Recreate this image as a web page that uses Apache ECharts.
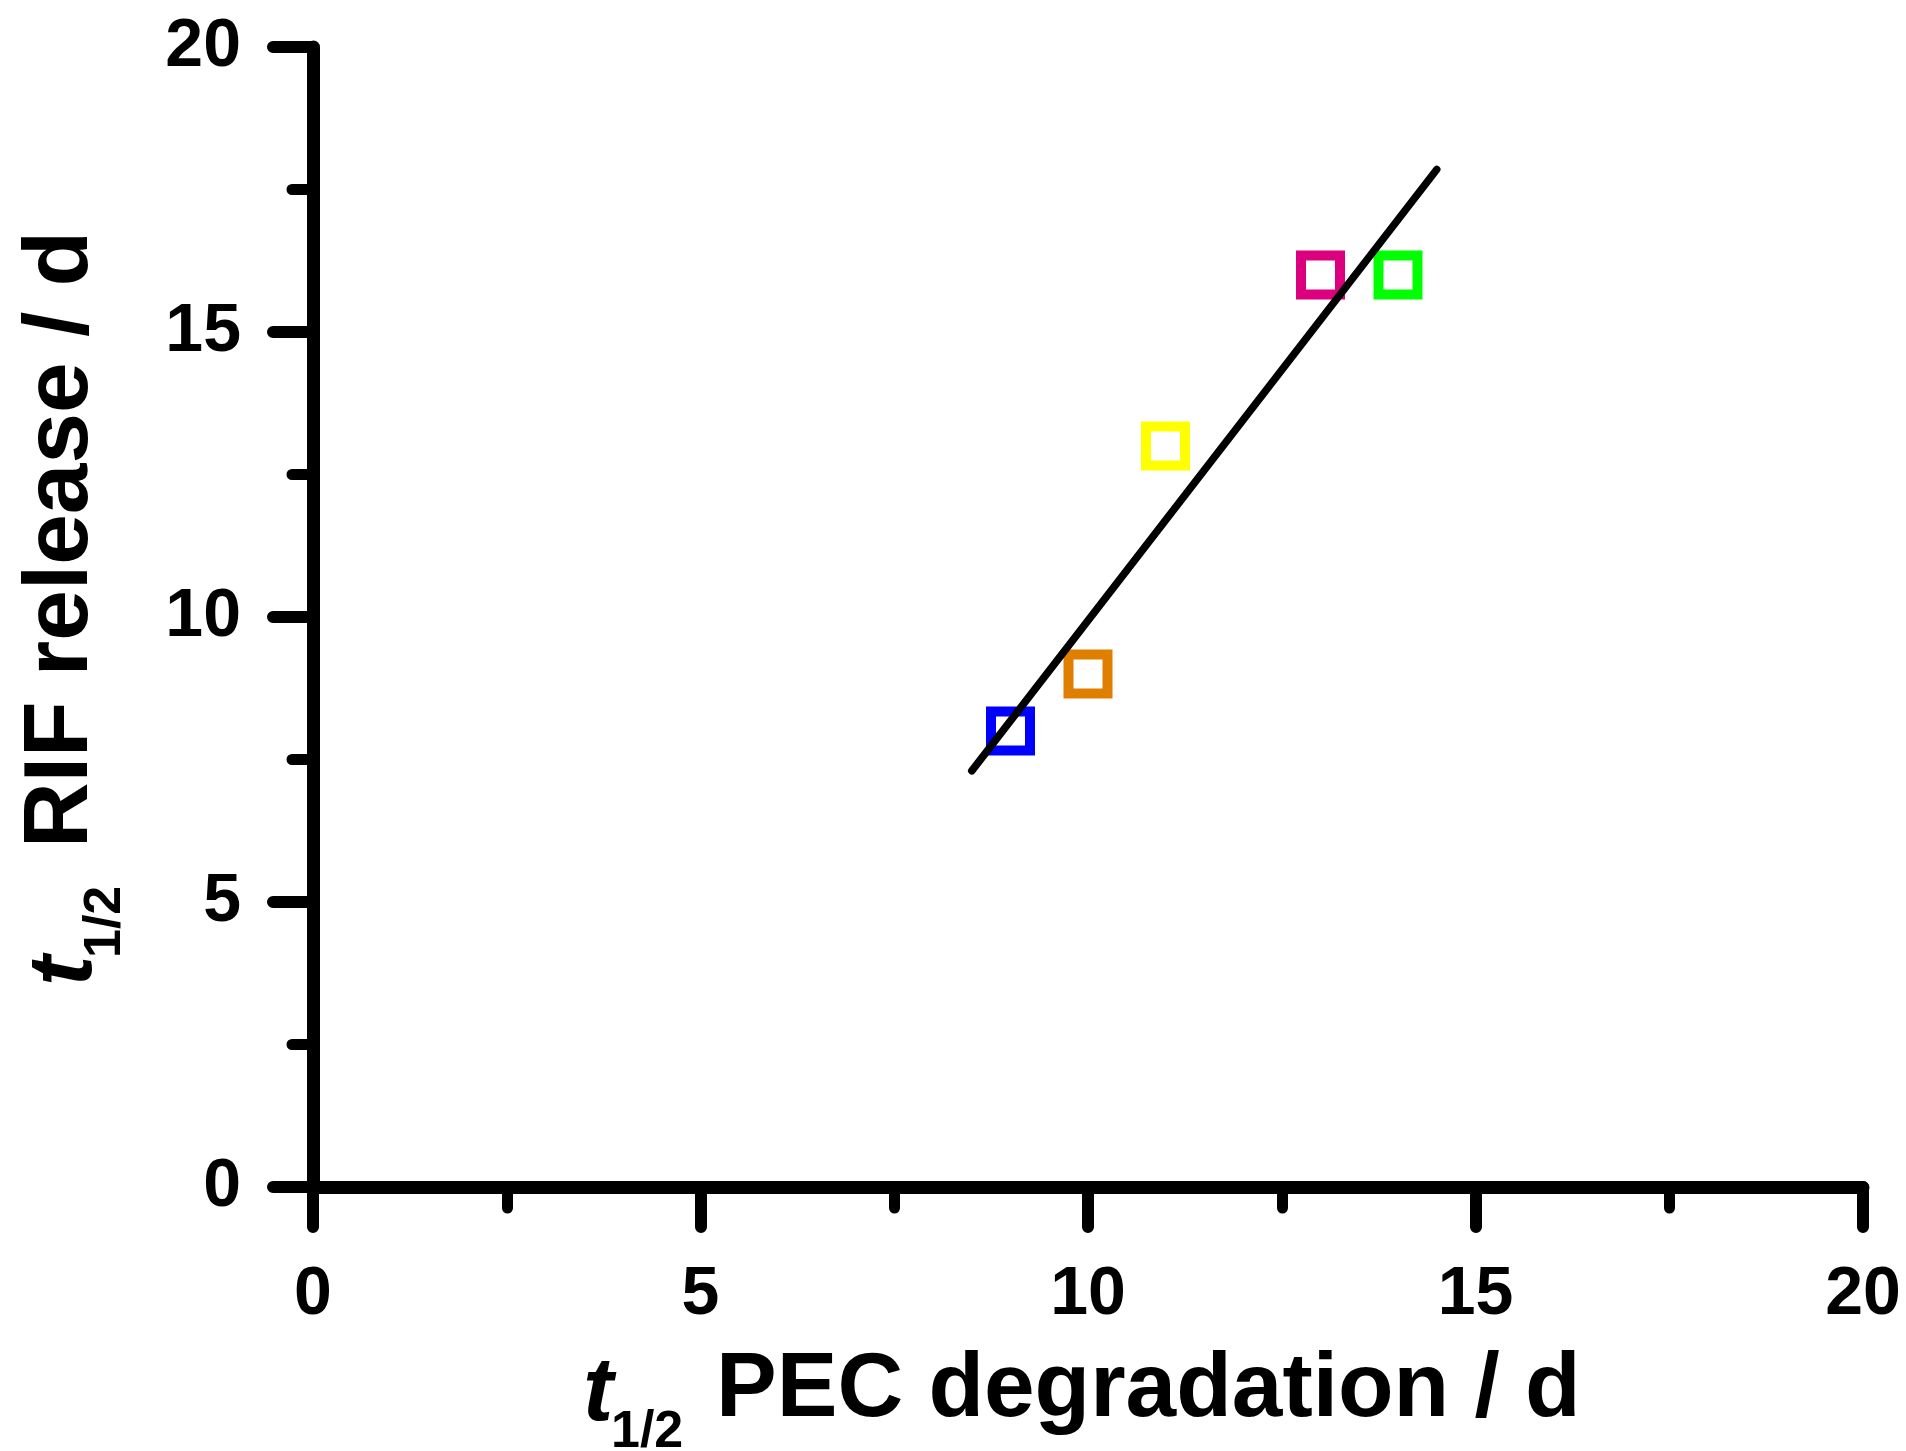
<!DOCTYPE html>
<html>
<head>
<meta charset="utf-8">
<script src="https://cdn.jsdelivr.net/npm/echarts@6/dist/echarts.min.js"></script>
<style>
html,body{margin:0;padding:0;background:#fff;}
#chart{width:1906px;height:1451px;}
</style>
</head>
<body>
<div id="chart"></div>
<script>
// Data
const pecDegradation = [9, 10, 11, 13, 14];      // t1/2 PEC degradation / d
const rifRelease     = [8, 9, 13, 16, 16];       // t1/2 RIF release / d
const pointColors    = ['#0000FF', '#E07E00', '#FFFF00', '#DC007F', '#00FF00'];
const fitX = [8.5, 14.5];
const fitY = [7.3, 17.85];
const xTicks = [0, 5, 10, 15, 20];
const yTicks = [0, 5, 10, 15, 20];

const FONT = '"Liberation Sans", Arial, sans-serif';

const chart = echarts.init(document.getElementById('chart'), null, {renderer: 'canvas'});

const axisCommon = {
  type: 'value', min: 0, max: 20, interval: 5,
  splitLine: {show: false},
  axisLine: {show: true, lineStyle: {color: '#000', width: 13, cap: 'round'}},
  axisTick: {show: true, inside: false, length: 40, lineStyle: {color: '#000', width: 12, cap: 'round'}},
  minorTick: {show: true, splitNumber: 2, length: 21, lineStyle: {color: '#000', width: 11, cap: 'round'}},
  axisLabel: {color: '#000', fontSize: 68, fontWeight: 'bold', fontFamily: FONT}
};

const scatterData = pecDegradation.map((x, i) => ({
  value: [x, rifRelease[i]],
  itemStyle: {color: 'rgba(0,0,0,0)', borderColor: pointColors[i], borderWidth: 10, opacity: 1}
}));

function title(x, y, rot, label, subY, mainX) {
  return {
    type: 'group', x: x, y: y, rotation: rot, silent: true,
    children: [
      {type: 'text', x: 0, y: 4, style: {text: 't', font: 'italic bold 91px ' + FONT, fill: '#000', verticalAlign: 'middle'}},
      {type: 'text', x: 28, y: subY, style: {text: '1/2', font: 'bold 52px ' + FONT, fill: '#000', verticalAlign: 'middle'}},
      {type: 'text', x: mainX, y: 0, style: {text: label, font: 'bold 91px ' + FONT, fill: '#000', verticalAlign: 'middle'}}
    ]
  };
}

chart.setOption({
  animation: false,
  backgroundColor: '#fff',
  grid: {left: 313, right: 43, top: 47, bottom: 264, containLabel: false},
  xAxis: Object.assign({}, axisCommon, {
    axisLabel: Object.assign({}, axisCommon.axisLabel, {margin: 74, customValues: xTicks})
  }),
  yAxis: Object.assign({}, axisCommon, {
    axisLabel: Object.assign({}, axisCommon.axisLabel, {margin: 72, customValues: yTicks})
  }),
  series: [
    {
      type: 'scatter', symbol: 'rect', symbolSize: 39, z: 2,
      itemStyle: {opacity: 1},
      data: scatterData
    },
    {
      type: 'line', z: 3, symbol: 'none',
      data: fitX.map((x, i) => [x, fitY[i]]),
      lineStyle: {color: '#000', width: 7.5, cap: 'round'}
    }
  ],
  graphic: [
    title(583, 1391, 0, 'PEC degradation / d', 42, 133),
    title(62, 986, Math.PI / 2, 'RIF release / d', 44, 138)
  ]
});
</script>
</body>
</html>
